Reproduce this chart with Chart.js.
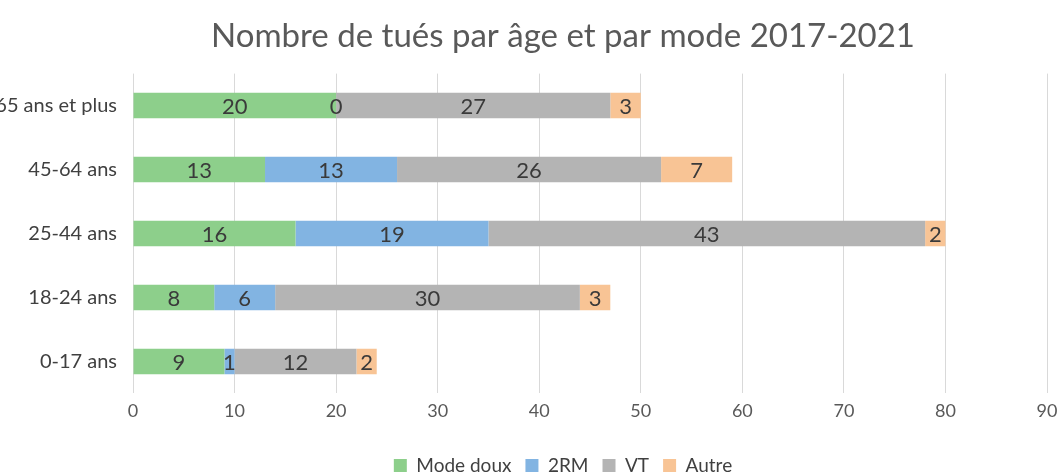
<!DOCTYPE html>
<html>
<head>
<meta charset="utf-8">
<script src="https://cdn.jsdelivr.net/npm/chart.js@4/dist/chart.umd.min.js"></script>
<style>
  body { margin: 0; background: #fff; }
  #wrap { width: 1059px; height: 475px; position: relative; overflow: hidden; }
</style>
</head>
<body>
<div id="wrap"><canvas id="graf" width="1126" height="485"></canvas></div>
<script>
// tranches d'age (du haut vers le bas)
var ages = ['65 ans et plus', '45-64 ans', '25-44 ans', '18-24 ans', '0-17 ans'];
var modeDoux = [20, 13, 16, 8, 9];
var deuxRM = [0, 13, 19, 6, 1];
var vt = [27, 26, 43, 30, 12];
var autre = [3, 7, 2, 3, 2];
var xTicks = [0, 10, 20, 30, 40, 50, 60, 70, 80, 90];

var police = 'Lato, "Noto Sans", sans-serif';

// ecrit la valeur au milieu de chaque segment
var etiquettes = {
    id: 'etiquettes',
    afterDatasetsDraw: function (chart) {
        var ctx = chart.ctx;
        ctx.save();
        ctx.font = '22px ' + police;
        ctx.fillStyle = '#3a3a3a';
        ctx.textAlign = 'center';
        ctx.textBaseline = 'middle';
        chart.data.datasets.forEach(function (ds, i) {
            chart.getDatasetMeta(i).data.forEach(function (bar, j) {
                var x = (bar.x + bar.base) / 2;
                ctx.fillText(ds.data[j], x, bar.y + 1);
            });
        });
        ctx.restore();
    }
};

var ctx = document.getElementById('graf').getContext('2d');
var myChart = new Chart(ctx, {
    type: 'bar',
    data: {
        labels: ages,
        datasets: [
            { label: 'Mode doux', data: modeDoux, backgroundColor: '#8dcf8b' },
            { label: '2RM', data: deuxRM, backgroundColor: '#82b4e2' },
            { label: 'VT', data: vt, backgroundColor: '#b4b4b4' },
            { label: 'Autre', data: autre, backgroundColor: '#f8c495' }
        ]
    },
    options: {
        indexAxis: 'y',
        responsive: false,
        animation: false,
        layout: { padding: { left: 0, right: 0, top: 8, bottom: 0 } },
        datasets: { bar: { barPercentage: 0.4, categoryPercentage: 1 } },
        scales: {
            x: {
                stacked: true,
                min: 0,
                max: 90,
                afterBuildTicks: function (axis) {
                    axis.ticks = xTicks.map(function (v) { return { value: v }; });
                },
                afterFit: function (axis) { axis.height += 13; },
                grid: { color: '#d9d9d9', drawTicks: false },
                border: { display: false },
                ticks: { font: { family: police, size: 18 }, color: '#595959', padding: 7 }
            },
            y: {
                stacked: true,
                afterFit: function (axis) { axis.width = 133; },
                grid: { display: false },
                border: { display: false },
                ticks: { font: { family: police, size: 20 }, color: '#404040', padding: 8 }
            },
            // marge vide a droite (le graphique d'origine est rogne)
            marge: {
                type: 'category',
                position: 'right',
                afterFit: function (axis) { axis.width = 79; },
                grid: { display: false },
                border: { display: false },
                ticks: { display: false }
            }
        },
        plugins: {
            title: {
                display: true,
                text: 'Nombre de tués par âge et par mode 2017-2021',
                font: { family: police, size: 33, weight: 'normal' },
                color: '#595959',
                padding: { top: 9, bottom: 17 }
            },
            legend: {
                position: 'bottom',
                labels: {
                    font: { family: police, size: 19 },
                    color: '#404040',
                    boxWidth: 13,
                    boxHeight: 13,
                    padding: 14
                }
            },
            tooltip: { enabled: false }
        }
    },
    plugins: [etiquettes]
});
</script>
</body>
</html>
